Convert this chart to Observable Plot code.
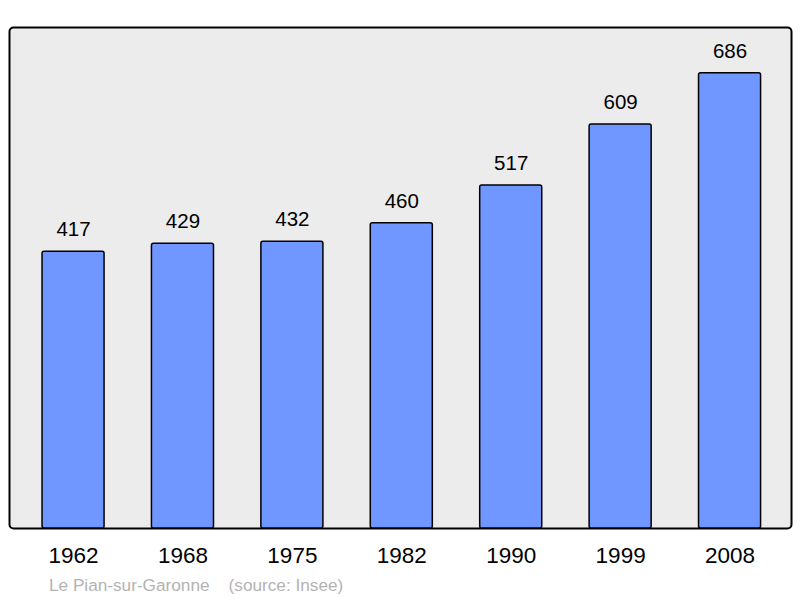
<!DOCTYPE html>
<html>
<head>
<meta charset="utf-8">
<script src="https://cdn.jsdelivr.net/npm/d3@7"></script>
<script src="https://cdn.jsdelivr.net/npm/@observablehq/plot@0.6"></script>
<style>
body { margin: 0; background: #fff; font-family: "Liberation Sans", Arial, sans-serif; }
#caption { font-family: "Liberation Sans", Arial, sans-serif; font-size: 17.2px; color: #b3b3b3; margin-left: 49px; margin-top: 3px; white-space: pre; line-height: 20px; }
</style>
</head>
<body>
<div id="chart"></div>
<div id="caption"></div>
<script>
const years = ["1962", "1968", "1975", "1982", "1990", "1999", "2008"];
const population = [417, 429, 432, 460, 517, 609, 686];
const commune = "Le Pian-sur-Garonne";
const source = "(source: Insee)";

const data = years.map((y, i) => ({year: y, pop: population[i]}));

const chart = Plot.plot({
  width: 800,
  height: 572,
  marginLeft: 9,
  marginRight: 9,
  marginTop: 27,
  marginBottom: 44,
  style: {fontFamily: "'Liberation Sans', Arial, sans-serif", background: "#fff"},
  x: {domain: years, paddingInner: 0.433, paddingOuter: 0.29, round: false, range: [10.3, 792.3], label: null},
  y: {domain: [0, 755], axis: null},
  marks: [
    Plot.frame({fill: "#ececec", stroke: "#000", strokeWidth: 2, rx: 4}),
    Plot.barY(data, {x: "year", y: "pop", fill: "#7097ff", stroke: "#000", strokeWidth: 1.5, rx: 2}),
    Plot.text(data, {x: "year", y: "pop", text: d => String(d.pop), dy: -22, fontSize: 20.5, fill: "#000"}),
    Plot.axisX({tickSize: 0, tickPadding: 19, fontSize: 22.5, color: "#000", label: null})
  ]
});
document.getElementById("chart").appendChild(chart);
document.getElementById("caption").textContent = commune + "    " + source;
</script>
</body>
</html>
